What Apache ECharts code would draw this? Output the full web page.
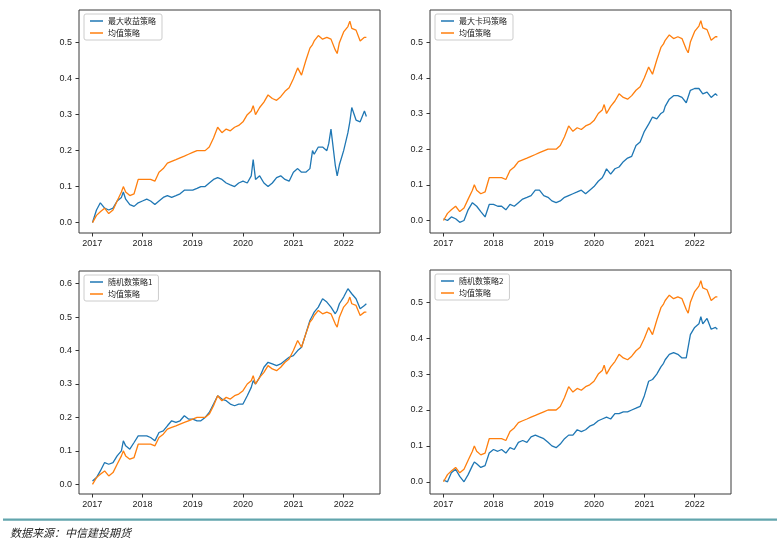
<!DOCTYPE html>
<html>
<head>
<meta charset="utf-8">
<script src="https://cdn.jsdelivr.net/npm/echarts@6/dist/echarts.min.js"></script>
<style>
html,body{margin:0;padding:0;background:#fff;}
#chart{width:777px;height:553px;}
</style>
</head>
<body>
<div id="chart"></div>
<script>
// ---- data ----
const dates = [
  '2017-01-03','2017-02-01','2017-03-01','2017-04-01','2017-05-01','2017-06-01','2017-07-01','2017-08-01','2017-08-15','2017-09-01','2017-10-01','2017-11-01','2017-12-01',
  '2018-01-01','2018-02-01','2018-03-01','2018-04-01','2018-05-01','2018-06-01','2018-07-01','2018-08-01','2018-09-01','2018-10-01','2018-11-01','2018-12-01',
  '2019-01-01','2019-02-01','2019-03-01','2019-04-01','2019-05-01','2019-06-01','2019-07-01','2019-08-01','2019-09-01','2019-10-01','2019-11-01','2019-12-01',
  '2020-01-01','2020-02-01','2020-03-01','2020-03-15','2020-04-01','2020-05-01','2020-06-01','2020-07-01','2020-08-01','2020-09-01','2020-10-01','2020-11-01','2020-12-01',
  '2021-01-01','2021-02-01','2021-03-01','2021-04-01','2021-05-01','2021-05-20','2021-06-01','2021-07-01','2021-08-01','2021-09-01','2021-09-15','2021-10-01','2021-11-01','2021-11-15','2021-12-01',
  '2022-01-01','2022-02-01','2022-02-15','2022-03-01','2022-04-01','2022-05-01','2022-06-01','2022-06-15'
];
const meanStrategy = [
  0.00,0.02,0.03,0.04,0.025,0.035,0.06,0.085,0.10,0.085,0.075,0.08,0.12,
  0.12,0.12,0.12,0.115,0.14,0.15,0.165,0.17,0.175,0.18,0.185,0.19,
  0.195,0.20,0.20,0.20,0.21,0.235,0.265,0.25,0.26,0.255,0.265,0.27,
  0.28,0.30,0.31,0.325,0.30,0.32,0.335,0.355,0.345,0.34,0.35,0.365,0.375,
  0.40,0.43,0.41,0.45,0.485,0.495,0.505,0.52,0.51,0.515,0.52,0.51,0.48,0.47,0.50,
  0.53,0.545,0.56,0.54,0.535,0.505,0.515,0.515
];
const maxReturn = [
  0.00,0.035,0.055,0.04,0.035,0.04,0.06,0.07,0.085,0.065,0.05,0.045,0.055,
  0.06,0.065,0.06,0.05,0.06,0.07,0.075,0.07,0.075,0.08,0.09,0.09,
  0.09,0.095,0.10,0.10,0.11,0.12,0.125,0.12,0.11,0.105,0.10,0.11,
  0.115,0.11,0.13,0.175,0.12,0.13,0.11,0.10,0.11,0.125,0.13,0.12,0.115,
  0.14,0.15,0.14,0.14,0.15,0.20,0.19,0.21,0.21,0.20,0.22,0.26,0.16,0.13,0.16,
  0.20,0.25,0.28,0.32,0.285,0.28,0.31,0.295
];
const maxCalmar = [
  0.005,0.0,0.01,0.005,-0.005,0.0,0.03,0.05,0.05,0.04,0.025,0.01,0.045,
  0.045,0.04,0.04,0.03,0.045,0.04,0.05,0.06,0.065,0.07,0.085,0.085,
  0.07,0.065,0.055,0.05,0.055,0.065,0.07,0.075,0.08,0.085,0.075,0.085,
  0.095,0.11,0.12,0.13,0.145,0.13,0.145,0.15,0.165,0.175,0.18,0.21,0.22,
  0.25,0.27,0.29,0.285,0.30,0.305,0.32,0.34,0.35,0.35,0.35,0.345,0.33,0.325,0.365,
  0.37,0.37,0.365,0.355,0.36,0.345,0.355,0.35
];
const random1 = [
  0.01,0.02,0.04,0.065,0.06,0.065,0.085,0.10,0.13,0.115,0.105,0.125,0.145,
  0.145,0.145,0.14,0.13,0.155,0.16,0.175,0.19,0.185,0.19,0.205,0.195,
  0.195,0.19,0.19,0.20,0.215,0.24,0.265,0.255,0.25,0.24,0.235,0.24,
  0.24,0.265,0.29,0.31,0.30,0.32,0.35,0.365,0.36,0.355,0.36,0.37,0.38,
  0.385,0.40,0.41,0.45,0.49,0.505,0.515,0.53,0.555,0.545,0.54,0.53,0.51,0.52,0.54,
  0.56,0.585,0.59,0.57,0.555,0.525,0.535,0.54
];
const random2 = [
  0.005,0.0,0.025,0.035,0.015,0.0,0.02,0.045,0.055,0.05,0.04,0.045,0.08,
  0.09,0.085,0.09,0.08,0.095,0.09,0.11,0.115,0.11,0.125,0.13,0.125,
  0.12,0.11,0.10,0.095,0.105,0.12,0.13,0.13,0.145,0.14,0.145,0.155,
  0.16,0.17,0.175,0.18,0.18,0.175,0.19,0.19,0.195,0.195,0.20,0.205,0.21,
  0.24,0.28,0.285,0.30,0.32,0.33,0.34,0.355,0.36,0.355,0.35,0.345,0.345,0.35,0.41,
  0.43,0.44,0.46,0.44,0.455,0.425,0.43,0.425
];
const seriesNames = ['最大收益策略','最大卡玛策略','随机数策略1','随机数策略2'];
const meanName = '均值策略';
const yearTicks = [2017,2018,2019,2020,2021,2022];
const yTicks5 = [0,0.1,0.2,0.3,0.4,0.5];
const yTicks6 = [0,0.1,0.2,0.3,0.4,0.5,0.6];
const sourceText = '数据来源：中信建投期货';

// ---- layout ----
const BLUE = '#1f77b4', ORANGE = '#ff7f0e';
const FONT = "'Liberation Sans Narrow','Liberation Sans',sans-serif";
const panels = [
  {values: maxReturn, name: seriesNames[0], grid:{left:79, top:10, width:301, height:223}, ymin:-0.029, ymax:0.591, yticks:yTicks5},
  {values: maxCalmar, name: seriesNames[1], grid:{left:430, top:10, width:301, height:223}, ymin:-0.035, ymax:0.590, yticks:yTicks5},
  {values: random1,  name: seriesNames[2], grid:{left:79, top:271, width:301, height:223}, ymin:-0.029, ymax:0.638, yticks:yTicks6},
  {values: random2,  name: seriesNames[3], grid:{left:430, top:270, width:301, height:224}, ymin:-0.034, ymax:0.590, yticks:yTicks5}
];
const xMin = Date.UTC(2016, 8, 27);
const xMax = Date.UTC(2022, 8, 22);
const xTickVals = yearTicks.map(y => Date.UTC(y, 0, 1));
const xData = dates.map(d => Date.parse(d + 'T00:00:00Z'));

const grids = [], xAxes = [], yAxes = [], series = [], legends = [];
panels.forEach((p, i) => {
  grids.push(Object.assign({show:true, borderColor:'#3a3a3a', borderWidth:1, backgroundColor:'transparent', containLabel:false}, p.grid));
  xAxes.push({
    type:'value', gridIndex:i, min:xMin, max:xMax, scale:true, position:'bottom',
    axisLine:{show:false, onZero:false},
    splitLine:{show:false},
    axisTick:{show:true, length:3.5, lineStyle:{color:'#333'}, customValues:xTickVals},
    axisLabel:{customValues:xTickVals, margin:6, color:'#222', fontSize:9, fontFamily:FONT,
      formatter: v => String(new Date(v).getUTCFullYear())}
  });
  yAxes.push({
    type:'value', gridIndex:i, min:p.ymin, max:p.ymax, position:'left',
    axisLine:{show:false, onZero:false},
    splitLine:{show:false},
    axisTick:{show:true, length:3.5, lineStyle:{color:'#333'}, customValues:p.yticks},
    axisLabel:{customValues:p.yticks, margin:7, color:'#222', fontSize:9, fontFamily:FONT,
      formatter: v => v.toFixed(1)}
  });
  series.push({
    type:'line', name:p.name, xAxisIndex:i, yAxisIndex:i,
    data: xData.map((t, k) => [t, p.values[k]]),
    showSymbol:false, symbol:'none', lineStyle:{color:BLUE, width:1.3}, itemStyle:{color:BLUE},
    animation:false
  });
  series.push({
    type:'line', name:meanName, xAxisIndex:i, yAxisIndex:i,
    data: xData.map((t, k) => [t, meanStrategy[k]]),
    showSymbol:false, symbol:'none', lineStyle:{color:ORANGE, width:1.3}, itemStyle:{color:ORANGE},
    animation:false
  });
  legends.push({
    orient:'vertical', left:p.grid.left + 5, top:p.grid.top + 4,
    data:[p.name, meanName],
    icon:'rect', itemWidth:13, itemHeight:1.5, itemGap:3,
    padding:[2.5, 6, 2.5, 6],
    borderColor:'#cccccc', borderWidth:1, borderRadius:2,
    backgroundColor:'rgba(255,255,255,0.85)',
    selectedMode:false,
    textStyle:{fontSize:8, lineHeight:9, color:'#222', fontFamily:"'Noto Sans CJK SC',sans-serif"}
  });
});

const chart = echarts.init(document.getElementById('chart'), null, {renderer:'canvas'});
chart.setOption({
  animation:false,
  backgroundColor:'#ffffff',
  grid:grids, xAxis:xAxes, yAxis:yAxes, series:series, legend:legends,
  graphic:[
    {type:'rect', left:3, top:518.5, shape:{width:774, height:2.3}, style:{fill:'#62a5ad'}},
    {type:'text', left:10, top:527.5, style:{text:sourceText, fontSize:11, fontStyle:'italic',
      fontFamily:"'Noto Sans CJK SC',sans-serif", fill:'#222'}}
  ]
});
</script>
</body>
</html>
